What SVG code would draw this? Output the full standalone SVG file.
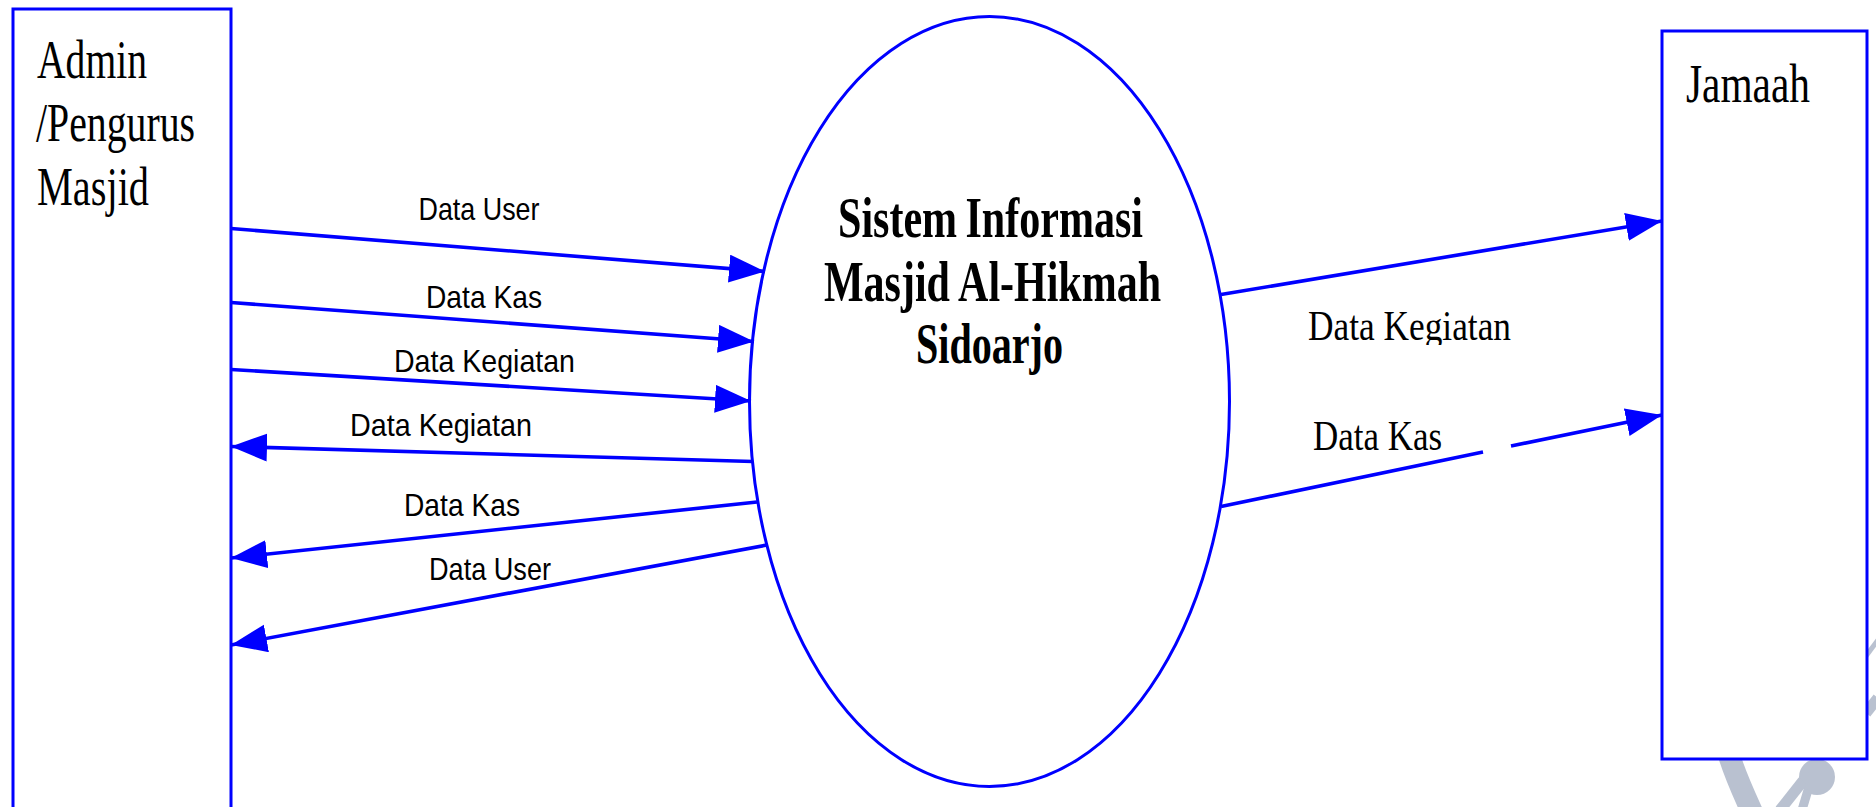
<svg xmlns="http://www.w3.org/2000/svg" width="1876" height="807" viewBox="0 0 1876 807">
  <style>
    .shape { fill: #fff; stroke: #0000ff; stroke-width: 3; }
    .line { fill: none; stroke: #0000ff; stroke-width: 3.6; }
    .arrow { marker-end: url(#head); }
    .wm { fill: none; stroke: #b9c1d0; }
    .serif { font-family: "Liberation Serif", "Times New Roman", serif; fill: #000; }
    .big { font-size: 55px; }
    .mid { font-size: 42px; }
    .bold { font-size: 56px; font-weight: bold; }
    .sans { font-family: "Liberation Sans", Arial, sans-serif; font-size: 32px; fill: #000; }
  </style>
  <defs>
    <marker id="head" markerUnits="userSpaceOnUse" markerWidth="38" markerHeight="30" refX="36" refY="14" orient="auto">
      <path d="M0 0 L36 14 L0 28 Z" fill="#0000ff"/>
    </marker>
    <clipPath id="cutG"><rect x="1300" y="300" width="220" height="45"/></clipPath>
  </defs>
  <rect width="1876" height="807" fill="#fff"/>
  <g id="watermark">
    <path class="wm" stroke-width="22" d="M1729 755 C1735 775 1742 790 1752 812"/>
    <circle cx="1817" cy="777" r="18" fill="#b9c1d0"/>
    <path class="wm" stroke-width="11" d="M1803 781 L1780 810"/>
    <path class="wm" stroke-width="9" d="M1808 790 L1802 810"/>
    <path class="wm" stroke-width="5" d="M1866 656 L1878 640"/>
    <path class="wm" stroke-width="11" d="M1866 713 L1878 698"/>
  </g>
  <g id="node-admin">
    <rect class="shape" x="13" y="9" width="218" height="820"/>
    <text class="serif big" x="37" y="78" textLength="110" lengthAdjust="spacingAndGlyphs">Admin</text>
    <text class="serif big" x="36" y="141" textLength="159" lengthAdjust="spacingAndGlyphs">/Pengurus</text>
    <text class="serif big" x="37" y="205" textLength="112" lengthAdjust="spacingAndGlyphs">Masjid</text>
  </g>
  <g id="node-sistem">
    <ellipse class="shape" cx="989.5" cy="401.5" rx="240" ry="385"/>
    <text class="serif bold" x="838" y="237" textLength="305" lengthAdjust="spacingAndGlyphs" word-spacing="-3">Sistem Informasi</text>
    <text class="serif bold" x="824" y="301" textLength="337" lengthAdjust="spacingAndGlyphs">Masjid Al-Hikmah</text>
    <text class="serif bold" x="916" y="363" textLength="147" lengthAdjust="spacingAndGlyphs">Sidoarjo</text>
  </g>
  <g id="node-jamaah">
    <rect class="shape" x="1662" y="31" width="205" height="728"/>
    <text class="serif big" x="1686" y="102" textLength="124" lengthAdjust="spacingAndGlyphs">Jamaah</text>
  </g>
  <g id="connectors">
    <line class="line arrow" x1="231" y1="228.5" x2="765" y2="271.5"/>
    <line class="line arrow" x1="231" y1="302.5" x2="754" y2="341.5"/>
    <line class="line arrow" x1="231" y1="369.5" x2="751" y2="401"/>
    <line class="line arrow" x1="753" y1="461.5" x2="231" y2="446.5"/>
    <line class="line arrow" x1="757" y1="502" x2="231" y2="558"/>
    <line class="line arrow" x1="767" y1="545" x2="231" y2="645"/>
    <line class="line arrow" x1="1221" y1="294.5" x2="1662" y2="221"/>
    <line class="line" x1="1221" y1="506.5" x2="1483" y2="452"/>
    <line class="line arrow" x1="1511" y1="446" x2="1662" y2="415"/>
  </g>
  <g id="labels">
    <text class="sans" x="418.500" y="220" textLength="121" lengthAdjust="spacingAndGlyphs">Data User</text>
    <text class="sans" x="426" y="308" textLength="116" lengthAdjust="spacingAndGlyphs">Data Kas</text>
    <text class="sans" x="394" y="372" textLength="181" lengthAdjust="spacingAndGlyphs">Data Kegiatan</text>
    <text class="sans" x="350" y="436" textLength="182" lengthAdjust="spacingAndGlyphs">Data Kegiatan</text>
    <text class="sans" x="404" y="516" textLength="116" lengthAdjust="spacingAndGlyphs">Data Kas</text>
    <text class="sans" x="429" y="580" textLength="122" lengthAdjust="spacingAndGlyphs">Data User</text>
    <text class="serif mid" x="1308" y="340" textLength="203" lengthAdjust="spacingAndGlyphs" clip-path="url(#cutG)">Data Kegiatan</text>
    <text class="serif mid" x="1313" y="450" textLength="129" lengthAdjust="spacingAndGlyphs">Data Kas</text>
  </g>
</svg>
